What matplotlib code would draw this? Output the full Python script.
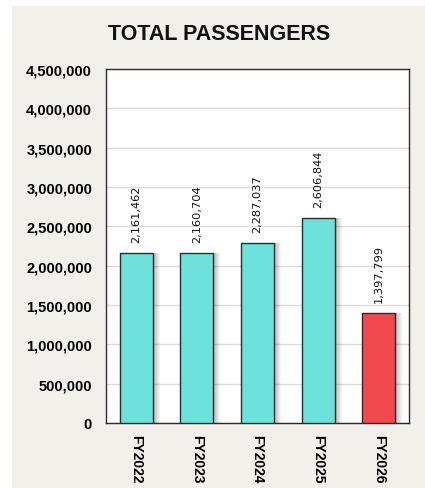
import matplotlib.pyplot as plt
from matplotlib.patches import Rectangle
from matplotlib.ticker import FuncFormatter, MultipleLocator

# Yearly passenger totals
years = ['FY2022', 'FY2023', 'FY2024', 'FY2025', 'FY2026']
passengers = [2161462, 2160704, 2287037, 2606844, 1397799]
bar_colors = ['#6de2dc', '#6de2dc', '#6de2dc', '#6de2dc', '#f04a4f']

plt.rcParams['font.family'] = ['Liberation Sans', 'DejaVu Sans']

fig = plt.figure(figsize=(4.25, 4.89), dpi=100, facecolor='white')

# beige card behind the chart
fig.patches.append(Rectangle((12 / 425, 0), 1, 1 - 7 / 489, transform=fig.transFigure,
                             facecolor='#f3f0eb', edgecolor='none', zorder=-10))

ax = fig.add_axes([106 / 425, 65 / 489, 303 / 425, 354 / 489])
ax.set_facecolor('white')

x = list(range(len(years)))
width = 0.545
px = 1 / 60.6  # one pixel in data units along x

# soft drop shadow to the right of each bar
n_layers = 7
for k in range(n_layers):
    alpha = 0.28 * (1 - k / n_layers)
    ax.bar([i + width / 2 + k * px for i in x], passengers, width=px, align='edge',
           color='black', alpha=alpha, linewidth=0, zorder=2)

ax.bar(x, passengers, width=width, color=bar_colors, edgecolor='#2b2b2b',
       linewidth=1.0, zorder=3)

for i, v in zip(x, passengers):
    ax.annotate(f'{v:,}', (i, v), xytext=(0, 8), textcoords='offset points',
                rotation=90, ha='center', va='bottom', fontsize=8.2,
                family='DejaVu Sans', color='#111111')

ax.set_xlim(-0.5, len(years) - 0.5)
ax.set_ylim(0, 4500000)
ax.yaxis.set_major_locator(MultipleLocator(500000))
ax.yaxis.set_major_formatter(FuncFormatter(lambda v, _: f'{int(v):,}'))
ax.set_xticks(x)
ax.set_xticklabels(years, rotation=270, fontsize=10, fontweight='bold')
for lbl in ax.get_yticklabels():
    lbl.set_fontweight('bold')
    lbl.set_fontsize(10.5)
ax.tick_params(axis='y', length=0, pad=10)
ax.tick_params(axis='x', length=0, pad=8)

ax.grid(axis='y', color='#dcdcdc', linewidth=1.0, zorder=0)
ax.set_axisbelow(True)
for s in ax.spines.values():
    s.set_color('#2b2b2b')
    s.set_linewidth(1.0)

fig.text(219 / 425, 1 - 35 / 489, 'TOTAL PASSENGERS', ha='center', va='center',
         fontsize=15.5, fontweight='bold', color='#111111')

fig.savefig('out.png', dpi=100, facecolor=fig.get_facecolor())
